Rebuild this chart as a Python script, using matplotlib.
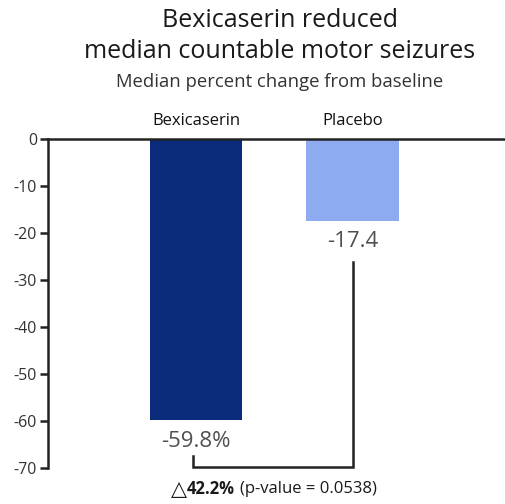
import numpy as np
import matplotlib.pyplot as plt

plt.rcParams['font.family'] = ['Open Sans', 'DejaVu Sans']

groups = ['Bexicaserin', 'Placebo']
median_change = [-59.8, -17.4]
value_labels = ['-59.8%', '-17.4']
bar_colors = ['#0b2b7c', '#8eaaf1']
yticks = [0, -10, -20, -30, -40, -50, -60, -70]
delta_mark = '\u25b3'
delta_bold = '42.2%'
delta_rest = '(p-value = 0.0538)'

fig = plt.figure(figsize=(5.05, 5.04), dpi=100)
ax = fig.add_axes([48 / 505, 1 - 468 / 504, 1 - 48 / 505, (468 - 139) / 504])

x = np.arange(len(groups))
ax.bar(x, median_change, width=0.59, color=bar_colors)

ax.set_xlim(-0.946, 1.974)
ax.set_ylim(-70, 0)
ax.set_yticks(yticks)
ax.set_yticklabels([str(t) for t in yticks], fontsize=11.5, color='#333333')
ax.set_xticks([])
ax.tick_params(axis='y', length=6, width=1.8, color='#222222', pad=2)
for side in ['right', 'bottom']:
    ax.spines[side].set_visible(False)
for side in ['left', 'top']:
    ax.spines[side].set_linewidth(1.8)
    ax.spines[side].set_color('#222222')

# group names above the zero line
for xi, name in zip(x, groups):
    ax.text(xi, 3.0, name, ha='center', va='baseline', fontsize=12,
            color='#111111', clip_on=False)

# value labels under the bars
for xi, v, lab in zip(x, median_change, value_labels):
    ax.text(xi, v - 4.5, lab, ha='center', va='center', fontsize=16,
            color='#505050')

# bracket between the two bars
ax.plot([x[0] - 0.021, x[0] - 0.021, x[1], x[1]], [-67.4, -69.8, -69.8, -26.2],
        color='#222222', lw=1.8, clip_on=False, solid_joinstyle='miter')

ty = -74.5
tb = ax.text(0.25, ty, delta_bold, ha='right', va='center', fontsize=12,
             fontweight='bold', color='#1a1a1a', clip_on=False)
ax.text(0.28, ty, delta_rest, ha='left', va='center', fontsize=12,
        color='#1a1a1a', clip_on=False)
renderer = fig.canvas.get_renderer()
bb = tb.get_window_extent(renderer)
xl = ax.transData.inverted().transform((bb.x0, bb.y0))[0]
ax.text(xl, ty, delta_mark, ha='right', va='center', fontsize=15,
        family='DejaVu Sans', color='#1a1a1a', clip_on=False)

fig.text(280 / 505, 1 - 36 / 504, 'Bexicaserin reduced\nmedian countable motor seizures',
         ha='center', va='center', fontsize=18, color='#1a1a1a', linespacing=1.3)
fig.text(280 / 505, 1 - 82 / 504, 'Median percent change from baseline',
         ha='center', va='center', fontsize=13.3, color='#333333')

fig.savefig('out.png', dpi=100)
